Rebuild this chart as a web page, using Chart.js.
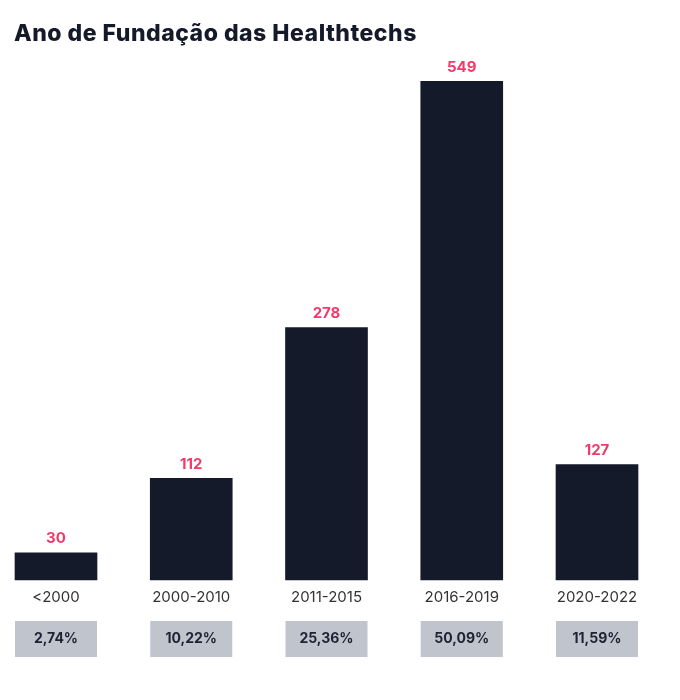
<!DOCTYPE html>
<html>
<head>
<meta charset="utf-8">
<script src="https://cdn.jsdelivr.net/npm/chart.js@4.4.0/dist/chart.umd.min.js"></script>
<style>
  html, body { margin:0; padding:0; background:#ffffff; }
  #wrap { position:relative; width:680px; height:700px; }
  #title {
    position:absolute; left:14px; top:19px;
    font:800 23px 'Inter', sans-serif; color:#151a2b; letter-spacing:0.5px;
  }
</style>
</head>
<body>
<div id="wrap">
  <div id="title">Ano de Fundação das Healthtechs</div>
  <canvas id="chart" width="680" height="700"></canvas>
</div>
<script>
// Data
const categories = ['<2000', '2000-2010', '2011-2015', '2016-2019', '2020-2022'];
const counts     = [30, 112, 278, 549, 127];
const shares     = ['2,74%', '10,22%', '25,36%', '50,09%', '11,59%'];

const BAR_COLOR  = '#151a2b';
const VAL_COLOR  = '#f23a6a';
const BOX_COLOR  = '#c0c4cc';

// Value labels above bars + percentage boxes below the axis labels
const barExtras = {
  id: 'barExtras',
  afterDatasetsDraw(chart) {
    const ctx = chart.ctx;
    const meta = chart.getDatasetMeta(0);
    ctx.save();
    meta.data.forEach(function(bar, i){
      const w = bar.width;
      // count label
      ctx.fillStyle = VAL_COLOR;
      ctx.font = '700 15px Inter, sans-serif';
      ctx.textAlign = 'center';
      ctx.textBaseline = 'middle';
      ctx.fillText(String(counts[i]), bar.x, bar.y - 14);
      // share box
      const top = chart.chartArea.bottom + 41;
      ctx.fillStyle = BOX_COLOR;
      ctx.fillRect(bar.x - w / 2, top, w, 36);
      ctx.fillStyle = '#1e2233';
      ctx.font = '700 14px Inter, sans-serif';
      ctx.fillText(shares[i], bar.x, top + 18);
    });
    ctx.restore();
  }
};

new Chart(document.getElementById('chart').getContext('2d'), {
  type: 'bar',
  data: {
    labels: categories,
    datasets: [{
      data: counts,
      backgroundColor: BAR_COLOR,
      barThickness: 82,
      clip: false
    }]
  },
  options: {
    responsive: false,
    animation: false,
    layout: { padding: { left:56, right:83, top:35, bottom:0 } },
    plugins: { legend:{ display:false }, tooltip:{ enabled:false } },
    scales: {
      x: {
        offset: false,
        grid: { display:false, drawTicks:false },
        border: { display:false },
        ticks: { color:'#333333', font:{ family:'Inter', size:15 }, padding:8, maxRotation:0, autoSkip:false },
        afterFit: function(scale){ scale.height = 120; }
      },
      y: {
        display: false,
        min: 0,
        max: 600
      }
    }
  },
  plugins: [barExtras]
});
</script>
</body>
</html>
